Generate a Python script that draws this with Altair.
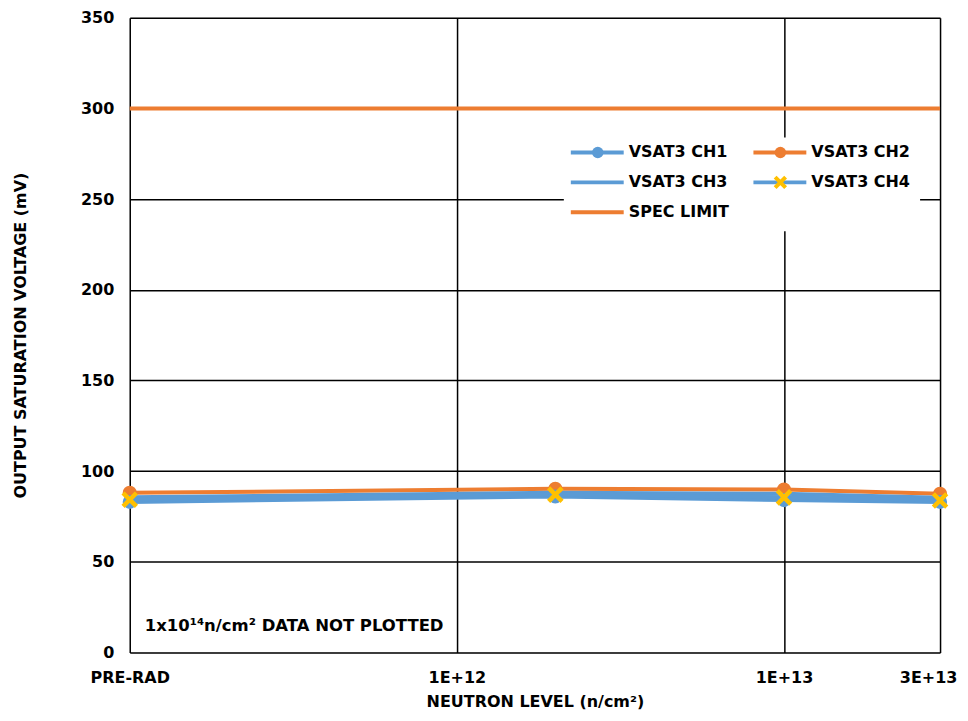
import altair as alt
import pandas as pd
import math

# ---- data ----
X_VALUES = [1e11, 2e12, 1e13, 3e13]          # PRE-RAD plotted at 1E+11 position
CH1 = [83.0, 86.0, 84.0, 83.0]
CH2 = [88.0, 90.2, 89.8, 87.5]
CH3 = [85.5, 88.0, 87.5, 85.3]
CH4 = [84.2, 87.0, 85.5, 83.8]
SPEC_X = [1e11, 3e13]
SPEC_Y = [300, 300]

TICK_VALUES = [1e11, 1e12, 1e13, 3e13]
TICK_LABELS = ["PRE-RAD", "1E+12", "1E+13", "3E+13"]
Y_TICKS = [0, 50, 100, 150, 200, 250, 300, 350]

SERIES = ["VSAT3 CH1", "VSAT3 CH2", "VSAT3 CH3", "VSAT3 CH4"]
NOTE = "1x10\u00b9\u2074n/cm\u00b2 DATA NOT PLOTTED"

BLUE = "#5B9BD5"
ORANGE = "#ED7D31"
YELLOW = "#FFC000"
FONT = "DejaVu Sans"
XSHAPE = "M-1,-1L1,1M-1,1L1,-1"

rows = []
for name, vals in zip(SERIES, [CH1, CH2, CH3, CH4]):
    for xv, yv in zip(X_VALUES, vals):
        rows.append({"series": name, "x": xv, "y": yv})
df = pd.DataFrame(rows)
spec_df = pd.DataFrame({"x": SPEC_X, "y": SPEC_Y})
one = pd.DataFrame({"a": [0]})

# label expression built from tick lists
expr = "''"
for v, lab in reversed(list(zip(TICK_VALUES, TICK_LABELS))):
    expr = f"abs(log(datum.value)/log(10) - {math.log10(v):.4f}) < 0.01 ? '{lab}' : ({expr})"

x_scale = alt.Scale(type="log", domain=[TICK_VALUES[0], TICK_VALUES[-1]], nice=False)
y_scale = alt.Scale(domain=[0, 350], nice=False)

x_axis = alt.Axis(
    values=TICK_VALUES, labelExpr=expr, title="NEUTRON LEVEL (n/cm\u00b2)",
    grid=True, gridColor="black", gridWidth=1.5, domain=False, ticks=False, tickSize=0,
    labelFlush=False, labelOverlap=False, labelPadding=17,
    labelOffset={"condition": {"test": "datum.value > 2e13", "value": -12}, "value": 0},
    labelFont=FONT, labelFontSize=16, labelFontWeight="bold", labelColor="black",
    titleFont=FONT, titleFontSize=16, titleFontWeight="bold", titleColor="black",
    titlePadding=8,
)
y_axis = alt.Axis(
    values=Y_TICKS, title="OUTPUT SATURATION VOLTAGE (mV)",
    grid=True, gridColor="black", gridWidth=1.5, domain=False, ticks=False, tickSize=0,
    labelPadding=16, labelFont=FONT, labelFontSize=16, labelFontWeight="bold", labelColor="black",
    titleFont=FONT, titleFontSize=16, titleFontWeight="bold", titleColor="black",
    titlePadding=52,
)

X = alt.X("x:Q", scale=x_scale, axis=x_axis)
Y = alt.Y("y:Q", scale=y_scale, axis=y_axis)
Xn = alt.X("x:Q", scale=x_scale)
Yn = alt.Y("y:Q", scale=y_scale)

spec = alt.Chart(spec_df).mark_line(color=ORANGE, strokeWidth=4).encode(x=X, y=Y)

ch2_line = alt.Chart(df).transform_filter(alt.datum.series == SERIES[1]).mark_line(
    color=ORANGE, strokeWidth=4).encode(x=Xn, y=Yn)

blue_lines = []
for s in [SERIES[0], SERIES[2], SERIES[3]]:
    blue_lines.append(alt.Chart(df).transform_filter(alt.datum.series == s).mark_line(
        color=BLUE, strokeWidth=4).encode(x=Xn, y=Yn))

ch2_pts = alt.Chart(df).transform_filter(alt.datum.series == SERIES[1]).mark_point(
    shape="circle", filled=True, color=ORANGE, size=200, opacity=1).encode(x=Xn, y=Yn)
ch1_pts = alt.Chart(df).transform_filter(alt.datum.series == SERIES[0]).mark_point(
    shape="circle", filled=True, color=BLUE, size=200, opacity=1).encode(x=Xn, y=Yn)
ch4_pts = alt.Chart(df).transform_filter(alt.datum.series == SERIES[3]).mark_point(
    shape=XSHAPE, filled=False, color=YELLOW, strokeWidth=4.5, size=180, opacity=1).encode(x=Xn, y=Yn)

# ---- manual legend (guide) ----
legend_layers = [
    alt.Chart(one).mark_rect(color="white").encode(
        x=alt.value(435), x2=alt.value(792), y=alt.value(120), y2=alt.value(214))
]
LEG = [
    (SERIES[0], BLUE, "circle", BLUE, 0, 0),
    (SERIES[1], ORANGE, "circle", ORANGE, 1, 0),
    (SERIES[2], BLUE, None, None, 0, 1),
    (SERIES[3], BLUE, "x", YELLOW, 1, 1),
    ("SPEC LIMIT", ORANGE, None, None, 0, 2),
]
COL_X = [442, 625]
ROW_Y = [135, 165, 195]
for name, lc, mk, mc, c, r in LEG:
    x0 = COL_X[c]
    yy = ROW_Y[r]
    legend_layers.append(alt.Chart(one).mark_rule(color=lc, strokeWidth=4).encode(
        x=alt.value(x0), x2=alt.value(x0 + 53), y=alt.value(yy)))
    if mk == "circle":
        legend_layers.append(alt.Chart(one).mark_point(
            shape="circle", filled=True, color=mc, size=130, opacity=1).encode(
            x=alt.value(x0 + 27), y=alt.value(yy)))
    elif mk == "x":
        legend_layers.append(alt.Chart(one).mark_point(
            shape=XSHAPE, filled=False, color=mc, strokeWidth=4, size=110, opacity=1).encode(
            x=alt.value(x0 + 27), y=alt.value(yy)))
    legend_layers.append(alt.Chart(one).mark_text(
        text=name, font=FONT, fontSize=16, fontWeight="bold", color="black",
        align="left", baseline="middle").encode(x=alt.value(x0 + 58), y=alt.value(yy)))

note = alt.Chart(one).mark_text(
    text=NOTE, font=FONT, fontSize=16.5, fontWeight="bold", color="black",
    align="left", baseline="middle").encode(x=alt.value(15), y=alt.value(610))

chart = alt.layer(
    spec, ch2_line, *blue_lines, ch2_pts, ch1_pts, ch4_pts, *legend_layers, note
).properties(
    width=812, height=636,
    autosize=alt.AutoSizeParams(type="none"),
    padding={"left": 122, "top": 9, "right": 20, "bottom": 60},
).configure_view(stroke=None).configure(background="white")

chart.save("out.html", embed_options={"renderer": "svg", "actions": False})
